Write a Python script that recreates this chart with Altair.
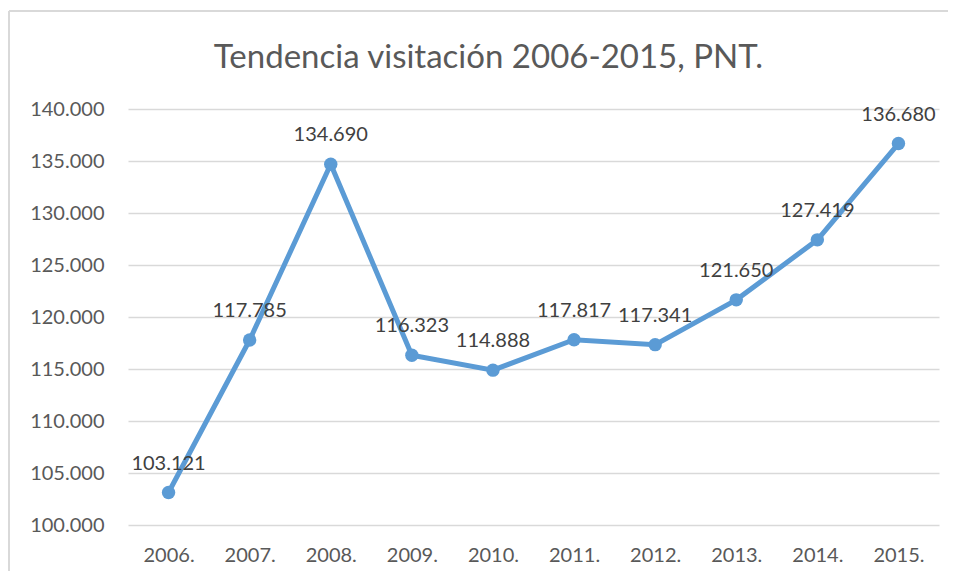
import altair as alt
import pandas as pd

years = ["2006.", "2007.", "2008.", "2009.", "2010.", "2011.", "2012.", "2013.", "2014.", "2015."]
visits = [103121, 117785, 134690, 116323, 114888, 117817, 117341, 121650, 127419, 136680]
y_ticks = [100000, 105000, 110000, 115000, 120000, 125000, 130000, 135000, 140000]
title_text = "Tendencia visitación 2006-2015, PNT."

df = pd.DataFrame({
    "year": years,
    "visits": visits,
    "label": [f"{v:,}".replace(",", ".") for v in visits],
})

FONT = "Lato"
BLUE = "#5B9BD5"

x = alt.X("year:N", sort=years, title=None,
          scale=alt.Scale(paddingInner=0, paddingOuter=0, align=0.5),
          axis=alt.Axis(labelAngle=0, labelFont=FONT, labelFontSize=20, labelColor="#595959",
                        labelPadding=20, ticks=False, domain=False, grid=False))
y = alt.Y("visits:Q", title=None,
          scale=alt.Scale(domain=[100000, 140000], nice=False, zero=False),
          axis=alt.Axis(values=y_ticks, labelFont=FONT, labelFontSize=20, labelColor="#595959",
                        labelPadding=24, ticks=False, domain=False, gridColor="#D9D9D9", gridWidth=1.5,
                        labelExpr="replace(format(datum.value, ','), ',', '.')"))

base = alt.Chart(df)

line = base.mark_line(color=BLUE, strokeWidth=5).encode(x=x, y=y)
points = base.mark_circle(color=BLUE, size=180, opacity=1).encode(x=x, y=y)
labels = base.mark_text(font=FONT, fontSize=20, color="#404040", baseline="alphabetic", dy=-23).encode(
    x=x, y=y, text="label:N")

border_left = base.mark_rule(color="#D9D9D9", strokeWidth=1.5).encode(
    x=alt.value(-119), y=alt.value(-98), y2=alt.value(462))
border_top = base.mark_rule(color="#D9D9D9", strokeWidth=1.5).encode(
    x=alt.value(-119), x2=alt.value(820), y=alt.value(-98))

chart = alt.layer(border_left, border_top, line, points, labels).properties(
    width=811, height=416,
    title=alt.TitleParams(title_text, font=FONT, fontSize=33, fontWeight="normal", color="#595959",
                          anchor="middle", dx=-45, offset=-65),
    autosize=alt.AutoSizeParams(type="none"),
    padding={"left": 120, "top": 101, "right": 9, "bottom": 46},
).configure(background="white").configure_view(stroke=None)

chart.save("out.html", embed_options={"renderer": "svg", "actions": False})
